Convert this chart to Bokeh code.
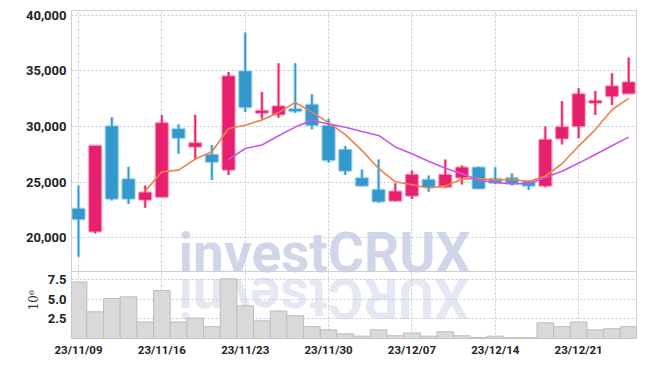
import numpy as np
import pandas as pd
from bokeh.plotting import figure
from bokeh.models import (ColumnDataSource, FixedTicker, NumeralTickFormatter, Range1d,
                          Span, LinearAxis)
from bokeh.embed import file_html
from bokeh.resources import INLINE
from bokeh.core.properties import value

# ---------------- data ----------------
dates = ["23/11/09", "23/11/10", "23/11/13", "23/11/14", "23/11/15", "23/11/16", "23/11/17",
         "23/11/20", "23/11/21", "23/11/22", "23/11/23", "23/11/24",
         "23/11/27", "23/11/28", "23/11/29", "23/11/30", "23/12/01",
         "23/12/04", "23/12/05", "23/12/06", "23/12/07", "23/12/08",
         "23/12/11", "23/12/12", "23/12/13", "23/12/14", "23/12/15",
         "23/12/18", "23/12/19", "23/12/20", "23/12/21", "23/12/22",
         "23/12/26", "23/12/27"]

opens = [22600, 20600, 30000, 25250, 23450, 23700, 29750, 28200, 27450, 26150,
         34950, 31250, 31100, 31550, 31950, 30050, 27900, 25350, 24300, 23350,
         23800, 25200, 24600, 25450, 26300, 25300, 25350, 25050, 24700, 28950,
         30050, 32150, 32750, 33000]
highs = [24700, 28250, 30850, 26400, 24700, 31050, 30200, 31050, 28350, 34900,
         38450, 33100, 35700, 35700, 32900, 30700, 28250, 26150, 27050, 24900,
         26050, 25600, 27050, 26500, 26400, 26350, 25800, 25150, 30000, 32300,
         33450, 33200, 34800, 36200]
lows = [18300, 20400, 23350, 23050, 22700, 23650, 27550, 27050, 25200, 25650,
        31300, 30700, 30800, 31250, 29750, 26750, 25650, 24650, 23150, 23300,
        23500, 24150, 24500, 24800, 24450, 24850, 24700, 24300, 24550, 28400,
        28950, 31050, 31950, 33000]
closes = [21700, 28250, 23550, 23550, 24050, 30300, 29000, 28500, 26850, 34500,
          31750, 31400, 31800, 31400, 30150, 27000, 26050, 24700, 23300, 24150,
          25650, 24600, 25650, 26300, 24450, 24950, 24900, 24700, 28800, 29950,
          32900, 32300, 33600, 33950]
# volume in millions of shares
volumes = [7.2, 3.4, 5.1, 5.3, 2.1, 6.1, 2.1, 2.6, 1.5, 7.6,
           4.15, 2.25, 3.5, 2.9, 1.5, 1.1, 0.6, 0.3, 1.1, 0.35,
           0.7, 0.3, 0.85, 0.35, 0.13, 0.3, 0.1, 0.1, 2.0, 1.5,
           2.1, 1.1, 1.25, 1.5]

price_ticks = [20000, 25000, 30000, 35000, 40000]
volume_ticks = [2.5, 5.0, 7.5]
volume_tick_labels = ["2.5", "5.0", "7.5"]
volume_unit = "10⁶"
date_tick_idx = [0, 5, 10, 15, 20, 25, 30]
watermark = "investCRUX"

# ---------------- styles / layout ----------------
UP = "#e6206e"
UP_HALO = "#f6b3cc"
DOWN = "#3399cc"
DOWN_HALO = "#b3dbef"
MA5_C = "#ef8148"
MA10_C = "#c955ea"
GRID_C = "#c3c9d8"
TICK_FONT = "Roboto"
WM_C = "#d0d6e9"
LABEL_C = "#222222"
OUTLINE_C = "#cfcfcf"

W, H = 640, 362
B_LEFT, B_RIGHT, B_TOP, B_BOTTOM = 71, 4, 10, 24
FRAME_W = W - B_LEFT - B_RIGHT          # 565
FRAME_H = H - B_TOP - B_BOTTOM          # 328
PRICE_H = 260                           # price panel height in px
VOL_H = 66                              # volume panel height in px
price_lo, price_hi = 17070, 40430
vol_top = 8.4
ppx = (price_hi - price_lo) / PRICE_H
y_range = Range1d(price_lo - (FRAME_H - PRICE_H) * ppx, price_hi)
vpx = vol_top / VOL_H
vol_range = Range1d(0, FRAME_H * vpx)
xr = Range1d(-0.42, 33.47)


def vol_to_price(t):
    return y_range.start + (t - vol_range.start) / (vol_range.end - vol_range.start) * (
        y_range.end - y_range.start)


n = len(dates)
idx = list(range(n))
up = [c >= o for o, c in zip(opens, closes)]
src = ColumnDataSource(dict(
    x=idx, open=opens, high=highs, low=lows, close=closes,
    top=[max(o, c) for o, c in zip(opens, closes)],
    bottom=[min(o, c) for o, c in zip(opens, closes)],
    color=[UP if u else DOWN for u in up],
    halo=[UP_HALO if u else DOWN_HALO for u in up],
    vol=volumes,
))
ma5 = pd.Series(closes, dtype=float).rolling(5).mean()
ma10 = pd.Series(closes, dtype=float).rolling(10).mean()
ma_src = ColumnDataSource(dict(x=idx, ma5=ma5.values, ma10=ma10.values))

p = figure(width=W, height=H, x_range=xr, y_range=y_range,
           output_backend="svg", toolbar_location=None,
           min_border_left=B_LEFT, min_border_right=B_RIGHT,
           min_border_top=B_TOP, min_border_bottom=B_BOTTOM)
p.extra_y_ranges = {"vol": vol_range}
p.background_fill_color = "white"
p.outline_line_color = OUTLINE_C

vol_tick_pos = [int(round(vol_to_price(t))) for t in volume_ticks]
p.xaxis.ticker = FixedTicker(ticks=date_tick_idx)
p.xaxis.major_label_overrides = {i: dates[i] for i in date_tick_idx}
p.yaxis.ticker = FixedTicker(ticks=price_ticks + vol_tick_pos)
p.yaxis.formatter = NumeralTickFormatter(format="0,0")
p.yaxis.major_label_overrides = dict(zip(vol_tick_pos, volume_tick_labels))
for g in (p.xgrid, p.ygrid):
    g.grid_line_color = GRID_C
    g.grid_line_dash = "2 2"
    g.grid_line_width = 1
for ax in (p.xaxis[0], p.yaxis[0]):
    ax.axis_line_color = None
    ax.major_tick_line_color = None
    ax.minor_tick_line_color = None
    ax.major_tick_out = 0
    ax.major_tick_in = 0
    ax.major_label_standoff = 5
    ax.major_label_text_font = TICK_FONT
    ax.major_label_text_font_size = "13px"
    ax.major_label_text_font_style = "bold"
    ax.major_label_text_color = LABEL_C
p.xaxis[0].major_label_standoff = 4
p.xaxis[0].major_label_text_font_size = "11.5px"

# volume unit label: one rotated tick label of an extra left axis, set beside the volume panel
unit_pos = int(round(vol_to_price(vol_top * 0.58)))
unit_axis = LinearAxis(ticker=FixedTicker(ticks=[unit_pos]),
                       major_label_overrides={unit_pos: volume_unit},
                       major_label_orientation="vertical",
                       axis_line_color=None, major_tick_line_color=None,
                       minor_tick_line_color=None, major_tick_out=0, major_tick_in=0,
                       major_label_standoff=-18,
                       major_label_text_font="DejaVu Serif",
                       major_label_text_font_size="12px",
                       major_label_text_color="#333333")
p.add_layout(unit_axis, "left")

# separator between price and volume panels
p.add_layout(Span(location=price_lo - 1 * ppx, dimension="width",
                  line_color=OUTLINE_C, line_width=1))

# watermark and its reflection
WM_FS = 55
p.text(x=[6.0], y=[18650], text=[watermark], text_font=value(TICK_FONT),
       text_font_style="bold", text_font_size=f"{WM_FS}px",
       text_color=WM_C, text_align="left", text_baseline="middle",
       level="underlay")
em = {"i": 0.259, "n": 0.557, "v": 0.497, "e": 0.532, "s": 0.519, "t": 0.338,
      "C": 0.658, "R": 0.634, "U": 0.653, "X": 0.637}
px_per_unit = FRAME_W / (xr.end - xr.start)
x0_px = 6.0 * px_per_unit
cx, rx = 0.0, []
for ch in watermark:
    w = em[ch] * WM_FS
    rx.append((x0_px + cx + w / 2) / px_per_unit)
    cx += w
p.text(x=rx, y=[5.2] * len(rx), text=list(watermark), angle=np.pi, y_range_name="vol",
       text_align="center", text_baseline="middle",
       text_font=value(TICK_FONT), text_font_style="bold", text_font_size=f"{WM_FS}px",
       text_color=WM_C, text_alpha=0.55, level="underlay")

# volume bars
p.vbar(x="x", width=1.0, top="vol", bottom=0, source=src, y_range_name="vol",
       fill_color="#d9d9d9", line_color="#bdbdbd", line_width=1)

# candles
p.segment(x0="x", y0="low", x1="x", y1="high", source=src, line_color="halo", line_width=3.5)
p.vbar(x="x", width=0.7, top="top", bottom="bottom", source=src,
       fill_color="halo", line_color="halo", line_width=3)
p.segment(x0="x", y0="low", x1="x", y1="high", source=src, line_color="color", line_width=1.6)
p.vbar(x="x", width=0.7, top="top", bottom="bottom", source=src,
       fill_color="color", line_color="color", line_width=0.5)
p.line(x="x", y="ma5", source=ma_src, line_color=MA5_C, line_width=1.6)
p.line(x="x", y="ma10", source=ma_src, line_color=MA10_C, line_width=1.6)

open("out.html", "w").write(file_html(p, INLINE))
